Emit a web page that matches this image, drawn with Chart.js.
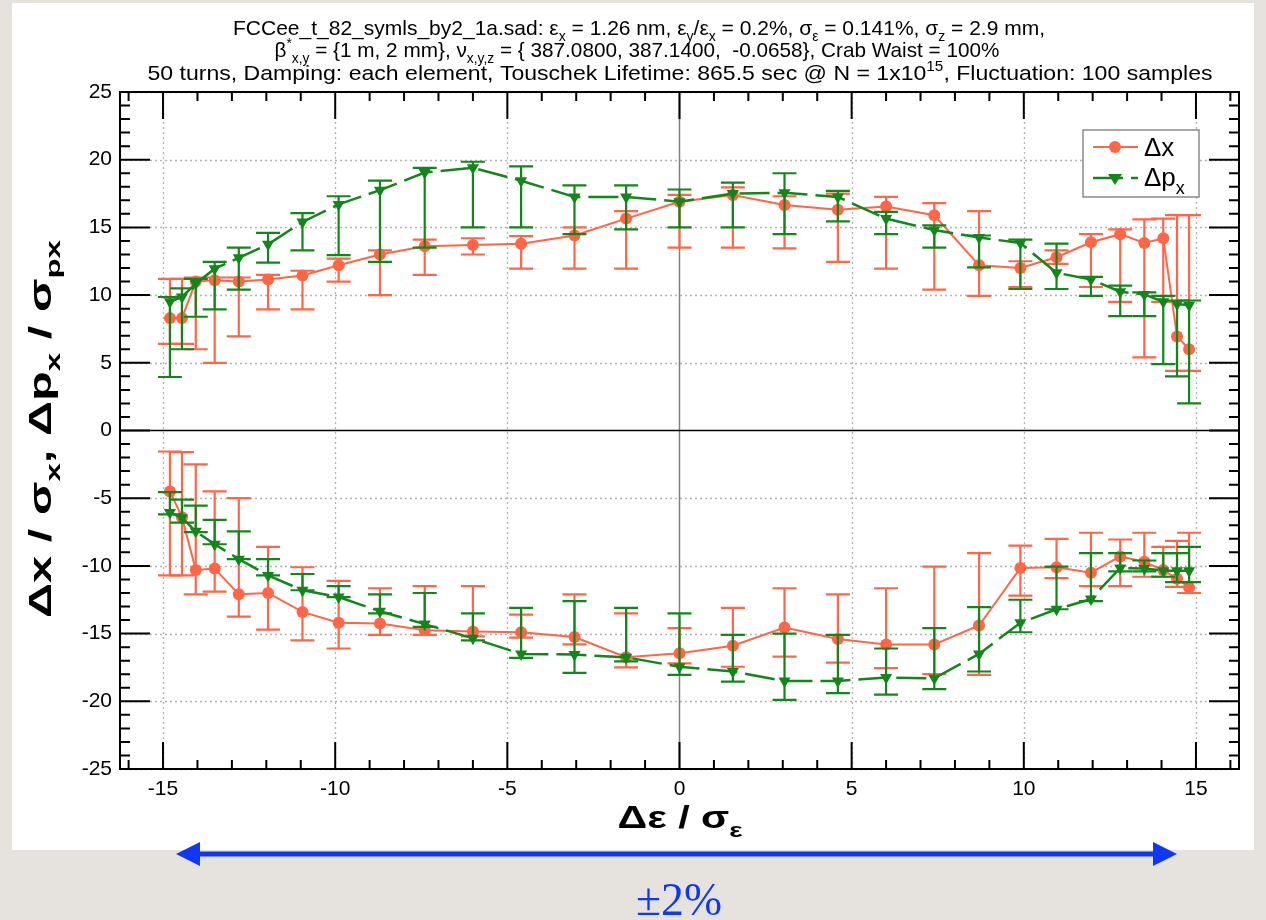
<!DOCTYPE html>
<html>
<head>
<meta charset="utf-8">
<script src="https://cdn.jsdelivr.net/npm/chart.js@4.4.1/dist/chart.umd.min.js"></script>
<style>
  html, body { margin: 0; padding: 0; background: #e6e2dd; }
  canvas { display: block; }
</style>
</head>
<body>
<canvas id="scan" width="1266" height="920"></canvas>
<script>
// energy offsets (shared by all branches)
const xs = [-14.8, -14.45, -14.05, -13.5, -12.8, -11.95, -10.95, -9.9, -8.7, -7.4, -6.0, -4.6, -3.05, -1.55, 0,
            1.55, 3.05, 4.6, 6.0, 7.4, 8.7, 9.9, 10.95, 11.95, 12.8, 13.5, 14.05, 14.45, 14.8];

// Δx, positive branch
const dxUp   = [8.3, 8.3, 11.0, 11.1, 11.0, 11.15, 11.45, 12.2, 13.0, 13.6, 13.7, 13.8, 14.4, 15.65, 16.9,
                17.4, 16.65, 16.3, 16.55, 15.9, 12.2, 12.0, 12.8, 13.9, 14.5, 13.85, 14.2, 6.95, 6.0];
const dxUpHi = [11.2, 11.2, 11.3, 11.3, 11.3, 11.5, 11.8, 12.7, 13.3, 14.1, 14.2, 14.35, 15.0, 16.2, 17.4,
                17.95, 17.3, 17.5, 17.25, 16.8, 16.2, 12.5, 13.3, 14.5, 14.85, 15.6, 15.65, 15.9, 15.9];
const dxUpLo = [6.4, 6.4, 6.0, 5.0, 6.95, 8.95, 8.95, 11.0, 10.0, 11.5, 13.0, 11.95, 11.95, 11.95, 13.5,
                13.5, 13.45, 12.45, 11.95, 10.4, 9.95, 10.6, 12.3, 10.6, 9.5, 5.4, 9.5, 4.4, 4.4];
// Δx, negative branch
const dxDn   = [-4.5, -6.4, -10.3, -10.2, -12.1, -12.0, -13.4, -14.2, -14.25, -14.75, -14.85, -14.9, -15.25, -16.75, -16.45,
                -15.9, -14.55, -15.4, -15.8, -15.8, -14.4, -10.15, -10.1, -10.5, -9.3, -9.7, -10.3, -10.95, -11.6];
const dxDnHi = [-1.55, -1.6, -2.5, -4.5, -5.0, -8.6, -10.1, -11.1, -11.65, -11.5, -11.5, -13.6, -12.1, -13.5, -14.6,
                -13.1, -11.65, -12.1, -11.65, -10.05, -9.05, -8.5, -8.0, -7.55, -8.05, -7.55, -8.6, -8.15, -7.55];
const dxDnLo = [-10.7, -10.7, -12.1, -11.9, -13.75, -14.7, -15.5, -16.1, -15.1, -15.1, -15.2, -15.3, -15.8, -17.5, -17.2,
                -17.45, -16.7, -17.15, -17.55, -18.0, -18.05, -12.2, -10.9, -11.5, -11.5, -10.8, -10.8, -11.55, -12.0];

// Δpx, positive branch
const pxUp   = [9.5, 9.86, 10.85, 11.95, 12.75, 13.75, 15.4, 16.7, 17.75, 19.05, 19.4, 18.45, 17.25, 17.25, 16.9,
                17.5, 17.55, 17.25, 15.65, 14.8, 14.25, 13.85, 11.65, 11.15, 10.25, 10.05, 9.5, 9.35, 9.25];
const pxUpHi = [9.86, 10.5, 11.2, 12.45, 13.5, 14.6, 16.05, 17.3, 18.45, 19.4, 19.85, 19.5, 18.1, 18.1, 17.8,
                18.3, 19.0, 17.7, 16.15, 15.15, 14.4, 14.1, 13.8, 11.35, 10.7, 10.2, 9.95, 9.6, 9.6];
const pxUpLo = [3.95, 6.0, 8.4, 8.95, 10.4, 12.4, 13.3, 12.95, 12.45, 13.5, 15.0, 15.0, 14.5, 14.85, 15.0,
                15.0, 14.5, 15.45, 14.5, 13.5, 12.05, 10.45, 10.45, 9.95, 8.45, 8.45, 4.9, 4.0, 2.0];
// Δpx, negative branch
const pxDn   = [-6.05, -6.45, -7.45, -8.4, -9.5, -10.7, -11.8, -12.3, -13.35, -14.3, -15.35, -16.5, -16.55, -16.75, -17.45,
                -17.8, -18.5, -18.5, -18.25, -18.3, -16.5, -14.2, -13.2, -12.45, -10.15, -10.2, -10.35, -10.35, -10.35];
const pxDnHi = [-4.55, -5.1, -5.55, -6.6, -7.45, -9.5, -10.6, -11.5, -12.1, -12.0, -13.5, -13.1, -12.6, -13.1, -13.5,
                -15.1, -15.0, -15.1, -16.1, -14.6, -13.05, -12.5, -10.05, -9.05, -9.05, -9.6, -9.05, -9.05, -8.6];
const pxDnLo = [-6.2, -6.8, -7.5, -8.4, -9.5, -10.7, -11.8, -12.3, -13.5, -14.5, -15.5, -16.8, -17.9, -17.05, -18.05,
                -18.55, -19.9, -19.4, -19.5, -19.1, -17.8, -14.9, -13.2, -12.6, -10.4, -10.4, -10.8, -11.2, -11.2];

const xTicks = [-15, -10, -5, 0, 5, 10, 15];
const yTicks = [-25, -20, -15, -10, -5, 0, 5, 10, 15, 20, 25];

const ORANGE = '#ff6647';
const GREEN = '#12861a';
const BLUE = '#1038f2';

const pts = ys => xs.map((x, i) => ({ x: x, y: ys[i] }));

const orangeStyle = {
    borderColor: ORANGE, backgroundColor: ORANGE, borderWidth: 2,
    pointStyle: 'circle', pointRadius: 6, pointBorderWidth: 0, pointBackgroundColor: ORANGE,
    tension: 0, order: 2
};
const greenStyle = {
    borderColor: GREEN, backgroundColor: GREEN, borderWidth: 2.5, borderDash: [30, 8],
    pointStyle: 'triangle', pointRotation: 180, pointRadius: 7, pointBorderWidth: 0, pointBackgroundColor: GREEN,
    tension: 0, order: 1
};

// draw text with sub/superscripts; parts = [[text, mode]], mode 0 normal, 1 sub, 2 sup
function drawRich(ctx, parts, x, y, size, opt) {
    const fam = opt.family || '"Liberation Sans", Arial, sans-serif';
    const weight = opt.bold ? 'bold ' : '';
    const fontFor = m => weight + (m ? Math.round(size * 0.68) : size) + 'px ' + fam;
    let total = 0;
    parts.forEach(p => { ctx.font = fontFor(p[1]); total += ctx.measureText(p[0]).width; });
    const sx = opt.width ? opt.width / total : 1;
    ctx.save();
    ctx.translate(x, y);
    ctx.scale(sx, 1);
    ctx.fillStyle = opt.color || '#000';
    ctx.textBaseline = 'alphabetic';
    ctx.textAlign = 'left';
    let cx = opt.align === 'left' ? 0 : -total / 2;
    parts.forEach(p => {
        ctx.font = fontFor(p[1]);
        const dy = p[1] === 1 ? size * 0.3 : (p[1] === 2 ? -size * 0.45 : 0);
        ctx.fillText(p[0], cx, dy);
        cx += ctx.measureText(p[0]).width;
    });
    ctx.restore();
}

const framePlugin = {
    id: 'frame',
    beforeDraw(chart) {
        const c = chart.ctx;
        c.save();
        c.fillStyle = '#e6e2dd';
        c.fillRect(0, 0, chart.width, chart.height);
        c.fillStyle = '#ffffff';
        c.fillRect(12, 3, 1242, 847);
        c.restore();
    },
    beforeDatasetsDraw(chart) {
        const c = chart.ctx, a = chart.chartArea;
        const sx = chart.scales.x, sy = chart.scales.y;
        c.save();
        c.lineWidth = 1.3;
        c.strokeStyle = '#b4b4b4';
        c.setLineDash([2, 3]);
        xTicks.forEach(v => {
            if (v === 0) return;
            const px = Math.round(sx.getPixelForValue(v)) + 0.5;
            c.beginPath(); c.moveTo(px, a.top); c.lineTo(px, a.bottom); c.stroke();
        });
        yTicks.forEach(v => {
            if (v === 0) return;
            const py = Math.round(sy.getPixelForValue(v)) + 0.5;
            c.beginPath(); c.moveTo(a.left, py); c.lineTo(a.right, py); c.stroke();
        });
        c.setLineDash([]);
        // zero lines
        c.strokeStyle = '#808080';
        c.lineWidth = 1.5;
        const x0 = sx.getPixelForValue(0);
        c.beginPath(); c.moveTo(x0, a.top); c.lineTo(x0, a.bottom); c.stroke();
        c.strokeStyle = '#000';
        const y0 = sy.getPixelForValue(0);
        c.beginPath(); c.moveTo(a.left, y0); c.lineTo(a.right, y0); c.stroke();
        c.restore();
    },
    beforeDatasetDraw(chart, args) {
        const ds = chart.data.datasets[args.index];
        if (!ds.errHi) return;
        const c = chart.ctx, a = chart.chartArea;
        const sx = chart.scales.x, sy = chart.scales.y;
        c.save();
        c.beginPath(); c.rect(a.left, a.top, a.right - a.left, a.bottom - a.top); c.clip();
        c.strokeStyle = ds.borderColor;
        c.lineWidth = 2.2;
        ds.data.forEach((p, i) => {
            const px = sx.getPixelForValue(p.x);
            const hi = sy.getPixelForValue(ds.errHi[i]);
            const lo = sy.getPixelForValue(ds.errLo[i]);
            c.beginPath();
            c.moveTo(px, hi); c.lineTo(px, lo);
            c.moveTo(px - 12, hi); c.lineTo(px + 12, hi);
            c.moveTo(px - 12, lo); c.lineTo(px + 12, lo);
            c.stroke();
        });
        c.restore();
    },
    afterDatasetsDraw(chart) {
        const c = chart.ctx, a = chart.chartArea;
        const sx = chart.scales.x, sy = chart.scales.y;
        c.save();
        c.strokeStyle = '#000';
        c.lineWidth = 2;
        c.strokeRect(a.left, a.top, a.right - a.left, a.bottom - a.top);
        c.beginPath();
        for (let v = -16; v <= 16; v++) {
            const px = sx.getPixelForValue(v);
            const len = v % 5 === 0 ? 27 : 9;
            c.moveTo(px, a.bottom); c.lineTo(px, a.bottom - len);
            c.moveTo(px, a.top); c.lineTo(px, a.top + len);
        }
        for (let v = -25; v <= 25; v++) {
            const py = sy.getPixelForValue(v);
            const len = v % 5 === 0 ? 30 : 10;
            c.moveTo(a.left, py); c.lineTo(a.left + len, py);
            c.moveTo(a.right, py); c.lineTo(a.right - len, py);
        }
        c.stroke();
        c.restore();
    },
    afterDraw(chart) {
        const c = chart.ctx;
        // title block
        drawRich(c, [['FCCee_t_82_symls_by2_1a.sad: ε', 0], ['x', 1], [' = 1.26 nm, ε', 0], ['y', 1], ['/ε', 0], ['x', 1],
            [' = 0.2%, σ', 0], ['ε', 1], [' = 0.141%, σ', 0], ['z', 1], [' = 2.9 mm,', 0]],
            639, 35, 21, { width: 812 });
        drawRich(c, [['β', 0], ['*', 2], ['x,y', 1], [' = {1 m, 2 mm}, ν', 0], ['x,y,z', 1],
            [' = { 387.0800, 387.1400,  -0.0658}, Crab Waist = 100%', 0]],
            637, 57, 21, { width: 725 });
        drawRich(c, [['50 turns, Damping: each element, Touschek Lifetime: 865.5 sec @ N = 1x10', 0], ['15', 2],
            [', Fluctuation: 100 samples', 0]],
            680, 80, 21, { width: 1065 });

        // axis titles
        drawRich(c, [['Δε / σ', 0], ['ε', 1]], 680, 828, 31, { bold: true, width: 125 });
        c.save();
        c.translate(51, 429);
        c.rotate(-Math.PI / 2);
        drawRich(c, [['Δx / σ', 0], ['x', 1], [', Δp', 0], ['x', 1], [' / σ', 0], ['px', 1]], 0, 0, 31, { bold: true, width: 378 });
        c.restore();

        // legend
        c.save();
        c.fillStyle = '#fff';
        c.fillRect(1083, 130, 116, 67);
        c.strokeStyle = '#8a8a8a';
        c.lineWidth = 1.5;
        c.strokeRect(1083, 130, 116, 67);
        c.strokeStyle = ORANGE; c.lineWidth = 2;
        c.beginPath(); c.moveTo(1093, 147); c.lineTo(1138, 147); c.stroke();
        c.fillStyle = ORANGE;
        c.beginPath(); c.arc(1115, 147, 6, 0, Math.PI * 2); c.fill();
        c.strokeStyle = GREEN; c.lineWidth = 2.5;
        c.setLineDash([30, 8]);
        c.beginPath(); c.moveTo(1093, 178); c.lineTo(1138, 178); c.stroke();
        c.setLineDash([]);
        c.fillStyle = GREEN;
        c.beginPath(); c.moveTo(1108, 174); c.lineTo(1122, 174); c.lineTo(1115, 185); c.closePath(); c.fill();
        c.restore();
        drawRich(c, [['Δx', 0]], 1144, 156, 26, { align: 'left' });
        drawRich(c, [['Δp', 0], ['x', 1]], 1144, 186, 26, { align: 'left' });

        // energy acceptance arrow
        c.save();
        c.strokeStyle = BLUE; c.fillStyle = BLUE; c.lineWidth = 5;
        c.beginPath(); c.moveTo(196, 854); c.lineTo(1157, 854); c.stroke();
        c.beginPath(); c.moveTo(176, 854); c.lineTo(200, 842); c.lineTo(200, 866); c.closePath(); c.fill();
        c.beginPath(); c.moveTo(1177, 854); c.lineTo(1153, 842); c.lineTo(1153, 866); c.closePath(); c.fill();
        c.restore();
        drawRich(c, [['±2%', 0]], 679, 915, 46, { family: '"Liberation Serif", "Times New Roman", serif', color: BLUE, width: 86 });
    }
};

const tickFont = { family: '"Liberation Sans", Arial, sans-serif', size: 21 };

new Chart(document.getElementById('scan'), {
    type: 'line',
    data: {
        datasets: [
            Object.assign({ label: 'Δx', data: pts(dxUp), errHi: dxUpHi, errLo: dxUpLo }, orangeStyle),
            Object.assign({ label: 'Δx', data: pts(dxDn), errHi: dxDnHi, errLo: dxDnLo }, orangeStyle),
            Object.assign({ label: 'Δpx', data: pts(pxUp), errHi: pxUpHi, errLo: pxUpLo }, greenStyle),
            Object.assign({ label: 'Δpx', data: pts(pxDn), errHi: pxDnHi, errLo: pxDnLo }, greenStyle)
        ]
    },
    options: {
        responsive: false,
        animation: false,
        layout: { padding: { left: 20, top: 92, right: 27, bottom: 0 } },
        plugins: {
            legend: { display: false },
            title: { display: false },
            tooltip: { enabled: false }
        },
        scales: {
            x: {
                type: 'linear', min: -16.25, max: 16.25,
                afterBuildTicks: s => { s.ticks = xTicks.map(v => ({ value: v })); },
                afterFit: s => { s.height = 151; },
                grid: { display: false, drawTicks: false },
                border: { display: false },
                ticks: { font: tickFont, color: '#000', padding: 8, maxRotation: 0, autoSkip: false }
            },
            y: {
                type: 'linear', min: -25, max: 25,
                afterBuildTicks: s => { s.ticks = yTicks.map(v => ({ value: v })); },
                afterFit: s => { s.width = 100; },
                grid: { display: false, drawTicks: false },
                border: { display: false },
                ticks: { font: tickFont, color: '#000', padding: 8, autoSkip: false }
            }
        }
    },
    plugins: [framePlugin]
});
</script>
</body>
</html>
